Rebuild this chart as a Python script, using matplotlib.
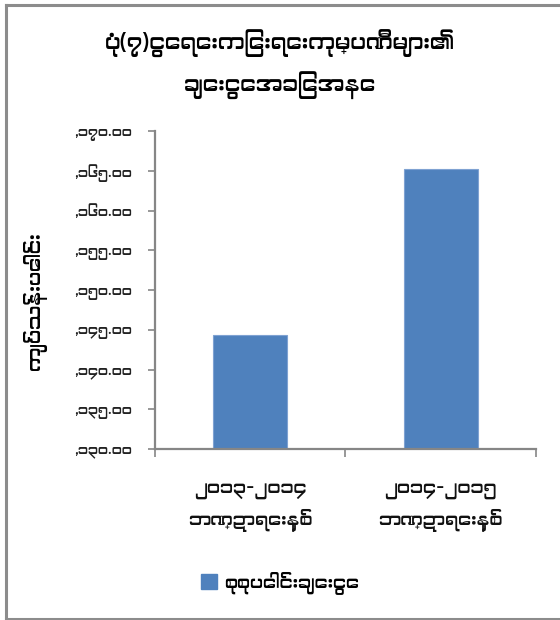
import matplotlib
matplotlib.use("Agg")
import matplotlib.pyplot as plt
import matplotlib.font_manager as fm
from matplotlib.ft2font import FT2Font
from matplotlib.patches import Rectangle
from matplotlib.lines import Line2D

# ---------------- data ----------------
title = "ပုံ(၇)ငွေရေးကြေးရေးကုမ္ပဏီများ၏\nချေးငွေအခြေအနေ"
categories = ["၂၀၁၃-၂၀၁၄\nဘဏ္ဍာရေးနှစ်", "၂၀၁၄-၂၀၁၅\nဘဏ္ဍာရေးနှစ်"]
values = [144.3, 165.2]
series_name = "စုစုပေါင်းချေးငွေ"
y_label = "ကျပ်သန်းပေါင်း"
y_ticks = [130, 135, 140, 145, 150, 155, 160, 165, 170]
y_tick_labels = [",၁၃၀.၀၀", ",၁၃၅.၀၀", ",၁၄၀.၀၀", ",၁၄၅.၀၀", ",၁၅၀.၀၀",
                 ",၁၅၅.၀၀", ",၁၆၀.၀၀", ",၁၆၅.၀၀", ",၁၇၀.၀၀"]

# ---------------- fonts ----------------
mm_font = None
preferred = []
for f in fm.fontManager.ttflist:
    try:
        cmap = FT2Font(f.fname).get_charmap()
        if 0x1000 in cmap and 0x1040 in cmap:
            preferred.append(f.name)
    except Exception:
        pass
if preferred:
    mm_font = sorted(set(preferred))[0]
families = ([mm_font] if mm_font else []) + ["DejaVu Sans"]
plt.rcParams["font.family"] = families

bar_color = "#4F81BD"
axis_color = "#868686"

fig = plt.figure(figsize=(5.6, 6.2), dpi=100)
ax = fig.add_axes([0.2768, 0.2758, 0.957 - 0.2768, 0.7887 - 0.2758])

x = list(range(len(categories)))
ax.bar(x, values, width=0.39, color=bar_color, edgecolor="#7FA2D2",
       linewidth=0.8, zorder=2)

ax.set_xlim(-0.5, len(categories) - 0.5)
ax.set_ylim(y_ticks[0], y_ticks[-1])
ax.set_yticks(y_ticks)
ax.set_yticklabels(y_tick_labels, fontsize=10, color="#222222")
ax.set_xticks([-0.5, 0.5, 1.5])
ax.set_xticklabels(["", "", ""])
ax.tick_params(axis="y", direction="out", length=5, width=1.2, color=axis_color, pad=12)
ax.tick_params(axis="x", direction="out", length=6, width=1.2, color=axis_color)

for i, lab in enumerate(categories):
    ax.text(i, -0.105, lab, transform=ax.get_xaxis_transform(), ha="center",
            va="top", fontsize=13, linespacing=1.55, color="#111111")

for s in ["top", "right"]:
    ax.spines[s].set_visible(False)
for s in ["left", "bottom"]:
    ax.spines[s].set_color(axis_color)
    ax.spines[s].set_linewidth(1.6)

fig.text(0.5, 0.895, title, ha="center", va="center", fontsize=15.5,
         fontweight="bold", linespacing=1.7)
fig.text(0.062, 0.515, y_label, ha="center", va="center", rotation=90,
         fontsize=14, fontweight="bold")

# legend
leg = fig.legend(handles=[Rectangle((0, 0), 1, 1, color=bar_color)],
                 labels=[series_name], loc="center", bbox_to_anchor=(0.5, 0.06),
                 frameon=False, fontsize=13, handlelength=0.9, handleheight=0.9,
                 handletextpad=0.4)

# outer frame (top, left, bottom)
fc = "#8C8C8C"
fig.add_artist(Line2D([0.011, 1.0], [0.992, 0.992], color=fc, lw=2.2, transform=fig.transFigure))
fig.add_artist(Line2D([0.011, 0.011], [0.0015, 0.992], color=fc, lw=2.2, transform=fig.transFigure))
fig.add_artist(Line2D([0.011, 1.0], [0.0015, 0.0015], color=fc, lw=2.2, transform=fig.transFigure))

fig.savefig("out.png", dpi=100)
